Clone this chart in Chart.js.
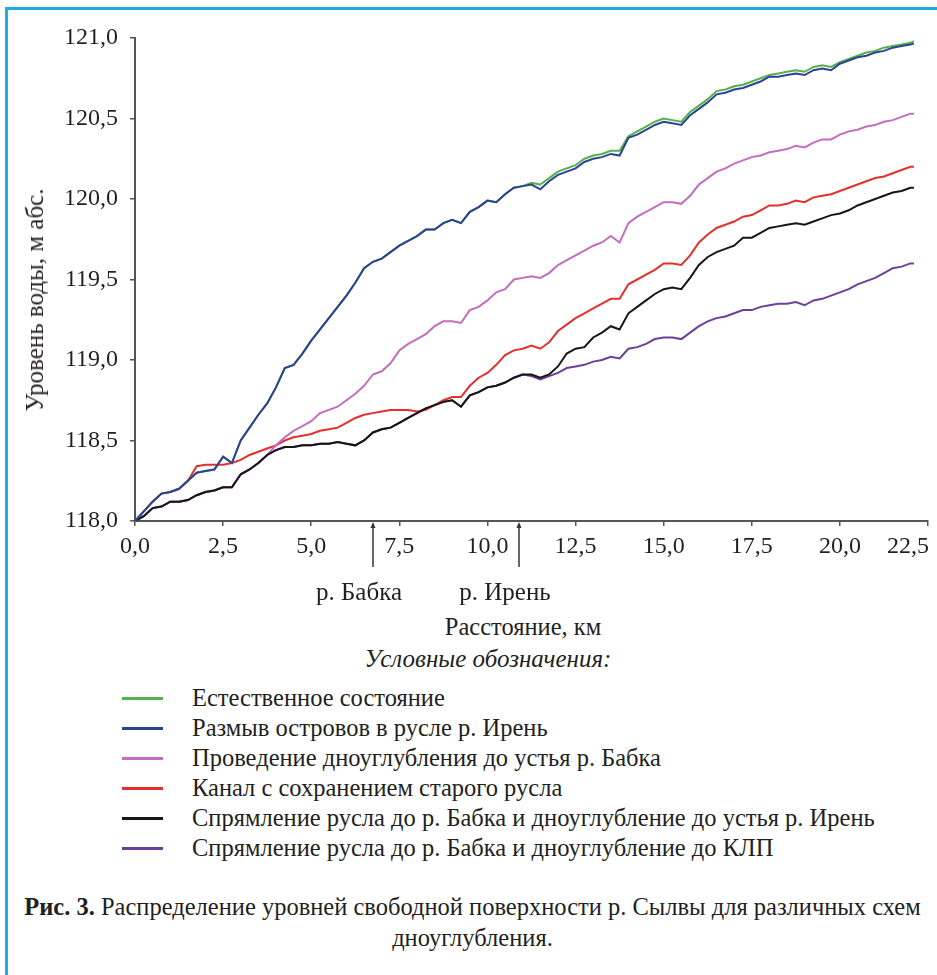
<!DOCTYPE html>
<html lang="ru">
<head>
<meta charset="utf-8">
<title>Распределение уровней свободной поверхности р. Сылвы</title>
<script src="https://cdn.jsdelivr.net/npm/chart.js@4.4.1/dist/chart.umd.min.js"></script>
<style>
    html, body { margin: 0; padding: 0; background: #fff; overflow: hidden; }
    #page { position: relative; width: 937px; height: 975px; font-family: "Liberation Serif", "Times New Roman", Tinos, "DejaVu Serif", serif; color: #231f20; }
    #frame { position: absolute; left: 5px; top: 7px; right: 0; bottom: 0; border-left: 3px solid #1fa9e6; border-top: 3px solid #1fa9e6; }
    #plot { position: absolute; left: 0; top: 0; width: 937px; height: 610px; }
    .ytitle { position: absolute; left: 35px; top: 300px; transform: translate(-50%, -50%) rotate(-90deg); font-size: 25px; white-space: nowrap; }
    .xtitle { position: absolute; left: 523px; top: 627px; transform: translate(-50%, -50%); font-size: 24.5px; white-space: nowrap; }
    .lhead { position: absolute; left: 488px; top: 659px; transform: translate(-50%, -50%); font-size: 25px; font-style: italic; white-space: nowrap; }
    #legend { position: absolute; left: 122px; top: 683px; }
    .row { height: 30px; display: flex; align-items: center; font-size: 24.5px; white-space: nowrap; }
    .row i { display: inline-block; width: 41px; height: 3px; margin-right: 29px; }
    .caption { position: absolute; left: 8px; width: 929px; top: 891px; text-align: center; font-size: 24.5px; line-height: 31px; }
</style>
</head>
<body>
<div id="page">
    <div id="frame"></div>
    <div id="plot"><canvas id="chart"></canvas></div>
    <div class="ytitle">Уровень воды, м абс.</div>
    <div class="xtitle">Расстояние, км</div>
    <div class="lhead">Условные обозначения:</div>
    <div id="legend"></div>
    <div class="caption"><b>Рис. 3.</b> Распределение уровней свободной поверхности р. Сылвы для различных схем дноуглубления.</div>
</div>
<script>
// --- данные ---
const km = [
    0, 0.25, 0.5, 0.75, 1, 1.25, 1.5, 1.75,
    2, 2.25, 2.5, 2.75, 3, 3.25, 3.5, 3.75,
    4, 4.25, 4.5, 4.75, 5, 5.25, 5.5, 5.75,
    6, 6.25, 6.5, 6.75, 7, 7.25, 7.5, 7.75,
    8, 8.25, 8.5, 8.75, 9, 9.25, 9.5, 9.75,
    10, 10.25, 10.5, 10.75, 11, 11.25, 11.5, 11.75,
    12, 12.25, 12.5, 12.75, 13, 13.25, 13.5, 13.75,
    14, 14.25, 14.5, 14.75, 15, 15.25, 15.5, 15.75,
    16, 16.25, 16.5, 16.75, 17, 17.25, 17.5, 17.75,
    18, 18.25, 18.5, 18.75, 19, 19.25, 19.5, 19.75,
    20, 20.25, 20.5, 20.75, 21, 21.25, 21.5, 21.75,
    22, 22.1
];

// Естественное состояние
const natural = [
    118.00, 118.06, 118.12, 118.17, 118.18, 118.20, 118.25, 118.30,
    118.31, 118.32, 118.40, 118.36, 118.50, 118.58, 118.66, 118.73,
    118.83, 118.95, 118.97, 119.04, 119.12, 119.19, 119.26, 119.33,
    119.40, 119.48, 119.57, 119.61, 119.63, 119.67, 119.71, 119.74,
    119.77, 119.81, 119.81, 119.85, 119.87, 119.85, 119.92, 119.95,
    119.99, 119.98, 120.03, 120.07, 120.08, 120.10, 120.09, 120.13,
    120.17, 120.19, 120.21, 120.25, 120.27, 120.28, 120.30, 120.30,
    120.39, 120.42, 120.45, 120.48, 120.50, 120.49, 120.48, 120.54,
    120.58, 120.62, 120.67, 120.68, 120.70, 120.71, 120.73, 120.75,
    120.77, 120.78, 120.79, 120.80, 120.79, 120.82, 120.83, 120.82,
    120.85, 120.87, 120.89, 120.91, 120.92, 120.94, 120.95, 120.96,
    120.97, 120.98
];

// Размыв островов в русле р. Ирень
const islands = [
    118.00, 118.06, 118.12, 118.17, 118.18, 118.20, 118.25, 118.30,
    118.31, 118.32, 118.40, 118.36, 118.50, 118.58, 118.66, 118.73,
    118.83, 118.95, 118.97, 119.04, 119.12, 119.19, 119.26, 119.33,
    119.40, 119.48, 119.57, 119.61, 119.63, 119.67, 119.71, 119.74,
    119.77, 119.81, 119.81, 119.85, 119.87, 119.85, 119.92, 119.95,
    119.99, 119.98, 120.03, 120.07, 120.08, 120.09, 120.06, 120.11,
    120.15, 120.17, 120.19, 120.23, 120.25, 120.26, 120.28, 120.27,
    120.38, 120.40, 120.43, 120.46, 120.48, 120.47, 120.46, 120.52,
    120.56, 120.60, 120.65, 120.66, 120.68, 120.69, 120.71, 120.73,
    120.76, 120.76, 120.77, 120.78, 120.77, 120.80, 120.81, 120.80,
    120.84, 120.86, 120.88, 120.89, 120.91, 120.92, 120.94, 120.95,
    120.96, 120.965
];

// Проведение дноуглубления до устья р. Бабка
const dredgeBabka = [
    118.00, 118.03, 118.08, 118.09, 118.12, 118.12, 118.13, 118.16,
    118.18, 118.19, 118.21, 118.21, 118.29, 118.32, 118.36, 118.41,
    118.47, 118.52, 118.56, 118.59, 118.62, 118.67, 118.69, 118.71,
    118.75, 118.79, 118.84, 118.91, 118.93, 118.98, 119.06, 119.10,
    119.13, 119.16, 119.21, 119.24, 119.24, 119.23, 119.31, 119.33,
    119.37, 119.42, 119.44, 119.50, 119.51, 119.52, 119.51, 119.54,
    119.59, 119.62, 119.65, 119.68, 119.71, 119.73, 119.77, 119.73,
    119.85, 119.89, 119.92, 119.95, 119.98, 119.98, 119.97, 120.02,
    120.09, 120.13, 120.17, 120.19, 120.22, 120.24, 120.26, 120.27,
    120.29, 120.30, 120.31, 120.33, 120.32, 120.35, 120.37, 120.37,
    120.40, 120.42, 120.43, 120.45, 120.46, 120.48, 120.49, 120.51,
    120.53, 120.53
];

// Канал с сохранением старого русла
const canal = [
    118.00, 118.06, 118.12, 118.17, 118.18, 118.20, 118.25, 118.34,
    118.35, 118.35, 118.35, 118.36, 118.38, 118.41, 118.43, 118.45,
    118.47, 118.50, 118.52, 118.53, 118.54, 118.56, 118.57, 118.58,
    118.61, 118.64, 118.66, 118.67, 118.68, 118.69, 118.69, 118.69,
    118.68, 118.69, 118.72, 118.75, 118.77, 118.77, 118.84, 118.89,
    118.92, 118.97, 119.03, 119.06, 119.07, 119.09, 119.07, 119.11,
    119.18, 119.22, 119.26, 119.29, 119.32, 119.35, 119.38, 119.38,
    119.47, 119.50, 119.53, 119.56, 119.60, 119.60, 119.59, 119.65,
    119.73, 119.78, 119.82, 119.84, 119.86, 119.89, 119.90, 119.93,
    119.96, 119.96, 119.97, 119.99, 119.98, 120.01, 120.02, 120.03,
    120.05, 120.07, 120.09, 120.11, 120.13, 120.14, 120.16, 120.18,
    120.20, 120.20
];

// Спрямление русла до р. Бабка и дноуглубление до устья р. Ирень
const straightIren = [
    118.00, 118.03, 118.08, 118.09, 118.12, 118.12, 118.13, 118.16,
    118.18, 118.19, 118.21, 118.21, 118.29, 118.32, 118.36, 118.41,
    118.44, 118.46, 118.46, 118.47, 118.47, 118.48, 118.48, 118.49,
    118.48, 118.47, 118.50, 118.55, 118.57, 118.58, 118.61, 118.64,
    118.67, 118.70, 118.72, 118.74, 118.75, 118.71, 118.78, 118.80,
    118.83, 118.84, 118.86, 118.89, 118.91, 118.91, 118.89, 118.91,
    118.96, 119.04, 119.07, 119.08, 119.14, 119.17, 119.21, 119.19,
    119.29, 119.33, 119.37, 119.41, 119.44, 119.45, 119.44, 119.51,
    119.59, 119.64, 119.67, 119.69, 119.71, 119.76, 119.76, 119.79,
    119.82, 119.83, 119.84, 119.85, 119.84, 119.86, 119.88, 119.90,
    119.91, 119.93, 119.96, 119.98, 120.00, 120.02, 120.04, 120.05,
    120.07, 120.07
];

// Спрямление русла до р. Бабка и дноуглубление до КЛП
const straightKlp = [
    118.00, 118.03, 118.08, 118.09, 118.12, 118.12, 118.13, 118.16,
    118.18, 118.19, 118.21, 118.21, 118.29, 118.32, 118.36, 118.41,
    118.44, 118.46, 118.46, 118.47, 118.47, 118.48, 118.48, 118.49,
    118.48, 118.47, 118.50, 118.55, 118.57, 118.58, 118.61, 118.64,
    118.67, 118.70, 118.72, 118.74, 118.75, 118.71, 118.78, 118.80,
    118.83, 118.84, 118.86, 118.89, 118.91, 118.90, 118.88, 118.90,
    118.92, 118.95, 118.96, 118.97, 118.99, 119.00, 119.02, 119.01,
    119.07, 119.08, 119.10, 119.13, 119.14, 119.14, 119.13, 119.17,
    119.21, 119.24, 119.26, 119.27, 119.29, 119.31, 119.31, 119.33,
    119.34, 119.35, 119.35, 119.36, 119.34, 119.37, 119.38, 119.40,
    119.42, 119.44, 119.47, 119.49, 119.51, 119.54, 119.57, 119.58,
    119.60, 119.60
];

const seriesNames = [
    'Естественное состояние',
    'Размыв островов в русле р. Ирень',
    'Проведение дноуглубления до устья р. Бабка',
    'Канал с сохранением старого русла',
    'Спрямление русла до р. Бабка и дноуглубление до устья р. Ирень',
    'Спрямление русла до р. Бабка и дноуглубление до КЛП'
];
const seriesData = [natural, islands, dredgeBabka, canal, straightIren, straightKlp];
const seriesColors = ['#55b14b', '#2c4294', '#c46cc0', '#e2302d', '#161616', '#6c3f98'];
const drawOrder = [2, 0, 3, 4, 1, 5];   // меньше = выше

const yTicks = [118, 118.5, 119, 119.5, 120, 120.5, 121];
const riverKm = [6.75, 10.9];
const riverNames = ['р. Бабка', 'р. Ирень'];

const serif = '"Liberation Serif", "Times New Roman", Tinos, "DejaVu Serif", serif';
const fmt = v => v.toFixed(1).replace('.', ',');
const xMax = 22.5;

// --- стрелки притоков и последняя подпись оси X ---
const riverMarks = {
    id: 'riverMarks',
    afterDraw(chart) {
        const { ctx, scales: { x }, chartArea } = chart;
        ctx.save();
        ctx.font = '24px ' + serif;
        ctx.textBaseline = 'middle';
        // последняя подпись прижата к концу оси, как в оригинале
        ctx.fillStyle = '#231f20';
        ctx.textAlign = 'right';
        ctx.fillText(fmt(xMax), x.getPixelForValue(xMax) + 1, chartArea.bottom + 26);

        ctx.strokeStyle = '#333';
        ctx.lineWidth = 1.5;
        riverKm.forEach((r, i) => {
            const px = Math.round(x.getPixelForValue(r));
            const top = chartArea.bottom + 1;
            ctx.beginPath();
            ctx.moveTo(px, top + 3);
            ctx.lineTo(px, top + 45);
            ctx.stroke();
            ctx.fillStyle = '#333';
            ctx.beginPath();
            ctx.moveTo(px, top);
            ctx.lineTo(px - 2.5, top + 6);
            ctx.lineTo(px + 2.5, top + 6);
            ctx.closePath();
            ctx.fill();
            ctx.fillStyle = '#231f20';
            ctx.font = '25px ' + serif;
            ctx.textAlign = 'center';
            ctx.fillText(riverNames[i], px - 14, 593);
        });
        ctx.restore();
    }
};

const axisFont = { family: serif, size: 24 };

new Chart(document.getElementById('chart'), {
    type: 'line',
    data: {
        labels: km,
        datasets: seriesNames.map((n, i) => ({
            label: n,
            data: km.map((k, j) => ({ x: k, y: seriesData[i][j] })),
            borderColor: seriesColors[i],
            backgroundColor: seriesColors[i],
            borderWidth: 2,
            pointRadius: 0,
            tension: 0,
            fill: false,
            order: drawOrder[i]
        }))
    },
    options: {
        responsive: true,
        maintainAspectRatio: false,
        animation: false,
        layout: { padding: { left: 0, right: 9, top: 38, bottom: 0 } },
        plugins: { legend: { display: false }, tooltip: { enabled: false } },
        scales: {
            x: {
                type: 'linear',
                min: 0, max: xMax,
                afterFit: s => { s.height = 89; },
                ticks: { stepSize: 2.5, callback: v => (v === xMax ? '' : fmt(v)), font: axisFont, color: '#231f20', padding: 6, maxRotation: 0 },
                grid: { drawOnChartArea: false, drawTicks: true, tickLength: 5, color: '#555', lineWidth: 1.5 },
                border: { color: '#555', width: 2 }
            },
            y: {
                min: 118, max: 121,
                afterFit: s => { s.width = 135; },
                afterBuildTicks: s => { s.ticks = yTicks.map(v => ({ value: v })); },
                ticks: { callback: fmt, font: axisFont, color: '#231f20', padding: 12 },
                grid: { drawOnChartArea: false, drawTicks: true, tickLength: 5, color: '#555', lineWidth: 1.5 },
                border: { color: '#555', width: 2 }
            }
        }
    },
    plugins: [riverMarks]
});

// легенда
document.getElementById('legend').innerHTML = seriesNames.map((n, i) =>
    `<div class="row"><i style="background:${seriesColors[i]}"></i>${n}</div>`).join('');
</script>
</body>
</html>
